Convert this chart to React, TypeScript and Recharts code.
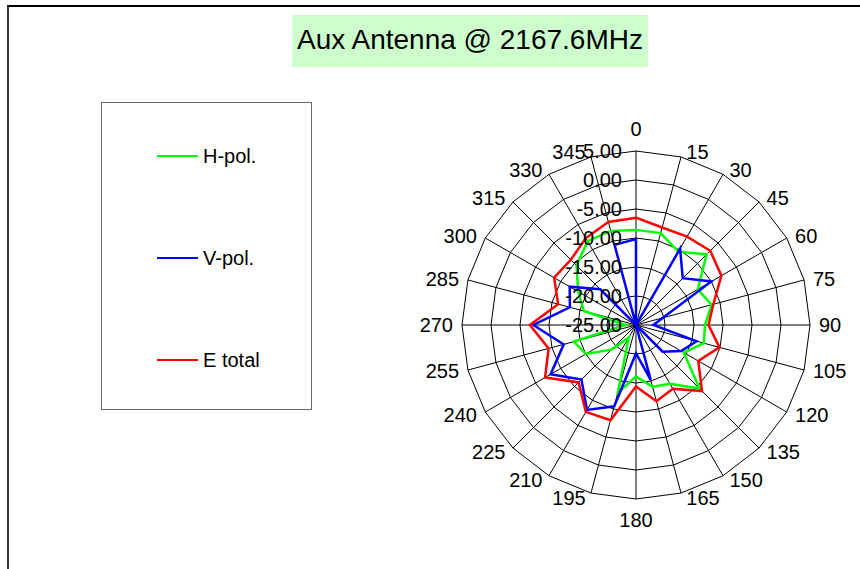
import React from 'react';
import {
  RadarChart,
  Radar,
  PolarGrid,
  PolarAngleAxis,
  PolarRadiusAxis,
  Legend,
} from 'recharts';

const angleLabels = [
  '0', '15', '30', '45', '60', '75', '90', '105', '120', '135', '150', '165',
  '180', '195', '210', '225', '240', '255', '270', '285', '300', '315', '330', '345',
];

const seriesNames = ['H-pol.', 'V-pol.', 'E total'];

const hPol = [
  -8.6, -8.6, -10.4, -7.8, -12.7, -11.5, -13.1, -12.9, -15.5, -9.5, -13.3, -14.0,
  -16.1, -12.9, -22.5, -19.0, -15.0, -13.9, -23.2, -15.7, -13.5, -10.5, -8.3, -8.2,
];

const vPol = [
  -10.2, -25.0, -9.8, -13.6, -10.0, -20.2, -22.0, -14.2, -16.0, -18.5, -25.0, -15.2,
  -20.1, -10.5, -8.1, -11.7, -8.0, -12.1, -7.3, -13.2, -11.8, -16.3, -25.0, -10.7,
];

const eTotal = [
  -6.5, -7.6, -7.4, -6.9, -8.0, -11.2, -12.5, -10.1, -12.6, -8.9, -12.3, -11.4,
  -14.4, -8.0, -7.7, -11.0, -6.9, -9.4, -6.7, -11.1, -8.7, -9.1, -7.7, -6.6,
];

const radiusTicks = [-25, -20, -15, -10, -5, 0, 5];

const data = angleLabels.map((angle, i) => ({
  angle,
  h: hPol[i],
  v: vPol[i],
  e: eTotal[i],
}));

const CX = 636;
const CY = 325;
const R = 174;
const FONT = '"Liberation Sans", Arial, sans-serif';

function AngleTick({ payload }: { payload?: { value: string } }) {
  const deg = Number(payload?.value ?? 0);
  const rad = (deg * Math.PI) / 180;
  const s = Math.sin(rad);
  const c = Math.cos(rad);
  const common = { fontSize: 20, fontFamily: FONT, fill: '#000', dominantBaseline: 'central' as const };
  if (deg === 0 || deg === 180) {
    return (
      <text x={CX} y={deg === 0 ? CY - 196 : CY + 195} textAnchor="middle" {...common}>
        {payload?.value}
      </text>
    );
  }
  const px = CX + (R + 5) * s;
  const py = CY - (R + 5) * c;
  return (
    <text x={px + (s > 0 ? 4 : -4)} y={py} textAnchor={s > 0 ? 'start' : 'end'} {...common}>
      {payload?.value}
    </text>
  );
}

function RadiusTick({ x, y, payload }: { x?: number; y?: number; payload?: { value: number } }) {
  return (
    <text
      x={(x ?? 0) - 14}
      y={y}
      textAnchor="end"
      dominantBaseline="central"
      fontSize={20}
      fontFamily={FONT}
      fill="#000"
    >
      {Number(payload?.value ?? 0).toFixed(2)}
    </text>
  );
}

type LegendEntry = { value?: string; color?: string };

function LegendBox({ payload }: { payload?: LegendEntry[] }) {
  // keep the series order, not the alphabetical one
  const items = [...(payload ?? [])].sort(
    (a, b) => seriesNames.indexOf(a.value ?? '') - seriesNames.indexOf(b.value ?? ''),
  );
  return (
    <div
      style={{
        width: 209,
        height: 306,
        border: '1px solid #666',
        background: '#fff',
        position: 'relative',
        fontFamily: FONT,
      }}
    >
      {items.map((entry, i) => (
        <div
          key={entry.value}
          style={{
            position: 'absolute',
            left: 55,
            top: 53 + i * 102 - 12,
            height: 24,
            display: 'flex',
            alignItems: 'center',
          }}
        >
          <span style={{ display: 'inline-block', width: 41, height: 2.5, background: entry.color }} />
          <span style={{ marginLeft: 5, fontSize: 20, color: '#000' }}>{entry.value}</span>
        </div>
      ))}
    </div>
  );
}

export default function App() {
  return (
    <div
      style={{
        position: 'absolute',
        left: 0,
        top: 0,
        width: 860,
        height: 569,
        overflow: 'hidden',
        background: '#fff',
        fontFamily: FONT,
      }}
    >
      <div
        style={{
          position: 'absolute',
          left: 7,
          top: 5,
          width: 900,
          height: 700,
          borderLeft: '2px solid #333',
          borderTop: '2px solid #000',
        }}
      />
      <div
        style={{
          position: 'absolute',
          left: 292,
          top: 15,
          width: 356,
          height: 52,
          lineHeight: '50px',
          background: '#CCFFCC',
          fontSize: 28,
          textAlign: 'center',
          color: '#000',
          whiteSpace: 'nowrap',
        }}
      >
        Aux Antenna @ 2167.6MHz
      </div>
      <div style={{ position: 'absolute', left: 0, top: 0 }}>
        <RadarChart
          width={860}
          height={569}
          data={data}
          cx={CX}
          cy={CY}
          outerRadius={R}
          margin={{ top: 0, right: 0, bottom: 0, left: 0 }}
        >
          <PolarGrid gridType="polygon" stroke="#000" strokeWidth={1} strokeOpacity={1} />
          <PolarAngleAxis dataKey="angle" type="category" axisLine={false} tickLine={false} tick={<AngleTick />} />
          <Radar
            name={seriesNames[0]}
            dataKey="h"
            stroke="#00FF00"
            strokeWidth={2.5}
            fill="none"
            fillOpacity={0}
            dot={false}
            isAnimationActive={false}
          />
          <Radar
            name={seriesNames[1]}
            dataKey="v"
            stroke="#0000FF"
            strokeWidth={2.5}
            fill="none"
            fillOpacity={0}
            dot={false}
            isAnimationActive={false}
          />
          <Radar
            name={seriesNames[2]}
            dataKey="e"
            stroke="#FF0000"
            strokeWidth={2.5}
            fill="none"
            fillOpacity={0}
            dot={false}
            isAnimationActive={false}
          />
          <PolarRadiusAxis
            angle={90}
            type="number"
            domain={[-25, 5]}
            ticks={radiusTicks}
            tickCount={7}
            axisLine={false}
            tickLine={false}
            tick={<RadiusTick />}
          />
          <Legend
            layout="vertical"
            align="center"
            verticalAlign="middle"
            content={<LegendBox />}
            wrapperStyle={{ position: 'absolute', left: 101, top: 102, width: 211, height: 308 }}
          />
        </RadarChart>
      </div>
    </div>
  );
}
